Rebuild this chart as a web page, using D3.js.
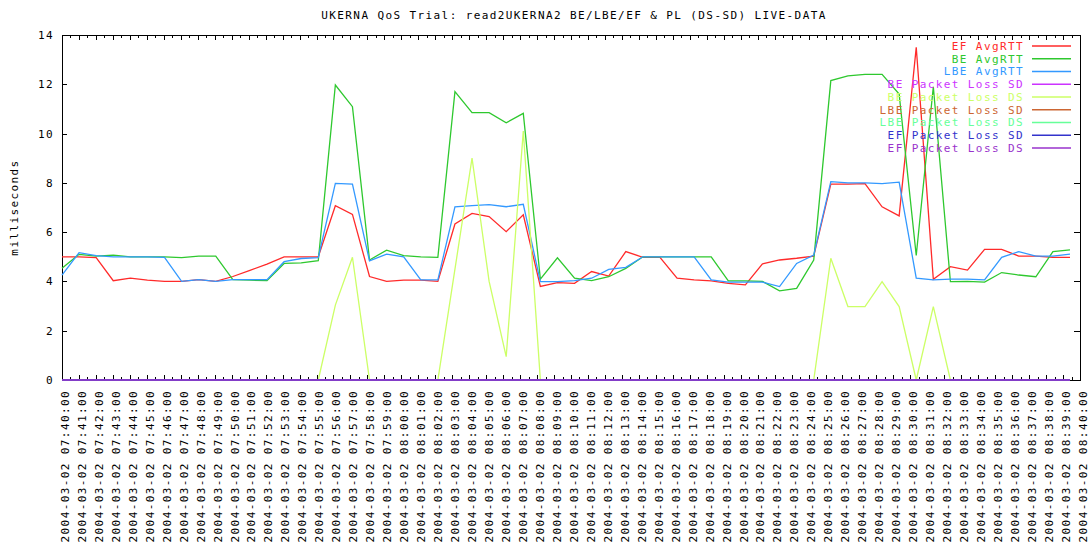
<!DOCTYPE html>
<html>
<head>
<meta charset="utf-8">
<script src="https://cdn.jsdelivr.net/npm/d3@7"></script>
<style>
  body { margin: 0; background: #fff; }
  svg { display: block; }
  text { font-family: "DejaVu Sans Mono", monospace; font-size: 11px; letter-spacing: 1.4px; }
</style>
</head>
<body>
<div id="chart"></div>
<script>
// Chart size and plot frame
const width = 1092;
const height = 545;
const frame = {left: 62, right: 1080, top: 35, bottom: 380};

const title = "UKERNA QoS Trial: read2UKERNA2 BE/LBE/EF & PL (DS-SD) LIVE-DATA";

// Axis runs 07:40 .. 08:40, one label per minute
const startTime = new Date(2004, 2, 2, 7, 40, 0);
const endTime = new Date(2004, 2, 2, 8, 40, 0);
const tickTimes = d3.timeMinute.range(startTime, d3.timeMinute.offset(endTime, 1));

const yTicks = [0, 2, 4, 6, 8, 10, 12, 14];

// 60 samples, roughly one a minute (samples drift a little past the minute marks)
const efAvgRTT = [5.0, 5.0, 4.97, 4.03, 4.13, 4.05, 4.0, 4.0, 4.07, 4.0,
  4.2, 4.45, 4.7, 5.0, 5.0, 5.0, 7.07, 6.72, 4.2, 4.0,
  4.05, 4.05, 4.0, 6.33, 6.76, 6.63, 6.02, 6.7, 3.8, 3.95,
  3.92, 4.4, 4.22, 5.21, 4.98, 4.98, 4.13, 4.06, 4.02, 3.92,
  3.86, 4.71, 4.87, 4.94, 5.03, 7.95, 7.95, 7.97, 7.03, 6.66,
  13.5, 4.09, 4.6, 4.46, 5.3, 5.3, 5.03, 5.03, 4.98, 4.98];

const beAvgRTT = [4.53, 5.1, 5.03, 5.07, 5.0, 5.0, 5.0, 4.97, 5.03, 5.03,
  4.07, 4.05, 4.03, 4.73, 4.75, 4.84, 11.97, 11.09, 4.87, 5.27,
  5.05, 5.0, 4.98, 11.7, 10.85, 10.85, 10.44, 10.82, 4.09, 4.96,
  4.13, 4.03, 4.19, 4.53, 5.0, 5.0, 5.0, 5.0, 5.0, 4.02,
  4.02, 4.0, 3.62, 3.72, 4.87, 12.15, 12.34, 12.4, 12.4, 11.6,
  5.05, 11.9, 3.99, 4.0, 3.97, 4.36, 4.26, 4.19, 5.21, 5.28];

const lbeAvgRTT = [4.26, 5.17, 5.05, 5.0, 5.0, 5.0, 4.98, 4.0, 4.07, 4.0,
  4.07, 4.07, 4.07, 4.8, 4.93, 4.97, 7.98, 7.95, 4.83, 5.11,
  5.0, 4.06, 4.06, 7.03, 7.08, 7.12, 7.03, 7.13, 3.99, 3.99,
  4.03, 4.13, 4.49, 4.57, 5.0, 5.0, 5.0, 5.0, 4.06, 3.97,
  3.97, 3.97, 3.79, 4.73, 5.07, 8.05, 8.0, 8.0, 7.97, 8.03,
  4.13, 4.06, 4.09, 4.09, 4.06, 4.98, 5.21, 5.03, 5.03, 5.11];

const beLossDS = [0, 0, 0, 0, 0, 0, 0, 0, 0, 0,
  0, 0, 0, 0, 0, 0, 3.04, 4.98, 0, 0,
  0, 0, 0, 4.5, 9.0, 4.0, 0.95, 10.1, 0, 0,
  0, 0, 0, 0, 0, 0, 0, 0, 0, 0,
  0, 0, 0, 0, 0, 4.94, 2.98, 2.98, 3.99, 2.98,
  0, 2.98, 0, 0, 0, 0, 0, 0, 0, 0];

// the other loss series stay at zero the whole hour
const noLoss = [0, 0, 0, 0, 0, 0, 0, 0, 0, 0,
  0, 0, 0, 0, 0, 0, 0, 0, 0, 0,
  0, 0, 0, 0, 0, 0, 0, 0, 0, 0,
  0, 0, 0, 0, 0, 0, 0, 0, 0, 0,
  0, 0, 0, 0, 0, 0, 0, 0, 0, 0,
  0, 0, 0, 0, 0, 0, 0, 0, 0, 0];

const seriesNames = ["EF AvgRTT", "BE AvgRTT", "LBE AvgRTT",
  "BE Packet Loss SD", "BE Packet Loss DS", "LBE Packet Loss SD",
  "LBE Packet Loss DS", "EF Packet Loss SD", "EF Packet Loss DS"];
const seriesColors = ["#ff2a2a", "#2ec82e", "#3399ff",
  "#cc33ff", "#ccff66", "#cc6633",
  "#66ff99", "#3333cc", "#9933cc"];
const seriesValues = [efAvgRTT, beAvgRTT, lbeAvgRTT,
  noLoss, beLossDS, noLoss, noLoss, noLoss, noLoss];

const series = seriesNames.map((name, k) => ({
  name: name,
  color: seriesColors[k],
  values: seriesValues[k].map((v, i) => ({i: i, v: v}))
}));

const svg = d3.select("#chart")
  .append("svg")
  .attr("width", width)
  .attr("height", height);

// Scales: time axis for ticks / labels, sample index for the lines
const x = d3.scaleTime()
  .domain([startTime, endTime])
  .range([frame.left, frame.right]);

const xSample = d3.scaleLinear()
  .domain([0, efAvgRTT.length - 1])
  .range([62, 1070]);

const y = d3.scaleLinear()
  .domain([0, 14])
  .range([frame.bottom, frame.top]);

// Title
svg.append("text")
  .attr("x", 574)
  .attr("y", 19)
  .attr("text-anchor", "middle")
  .text(title);

// Y axis title
svg.append("text")
  .attr("transform", `translate(18, ${(frame.top + frame.bottom) / 2}) rotate(-90)`)
  .attr("text-anchor", "middle")
  .text("milliseconds");

// Minute ticks and half minute ticks, top and bottom
const halfTicks = d3.timeSecond.every(30).range(startTime, endTime)
  .filter(d => d.getSeconds() === 30);

svg.append("g")
  .attr("transform", `translate(0, ${frame.bottom})`)
  .call(d3.axisBottom(x).tickValues(tickTimes).tickFormat("").tickSize(-5).tickSizeOuter(0))
  .call(g => g.select(".domain").remove());
svg.append("g")
  .attr("transform", `translate(0, ${frame.bottom})`)
  .call(d3.axisBottom(x).tickValues(halfTicks).tickFormat("").tickSize(-3).tickSizeOuter(0))
  .call(g => g.select(".domain").remove());
svg.append("g")
  .attr("transform", `translate(0, ${frame.top})`)
  .call(d3.axisTop(x).tickValues(tickTimes).tickFormat("").tickSize(-5).tickSizeOuter(0))
  .call(g => g.select(".domain").remove());
svg.append("g")
  .attr("transform", `translate(0, ${frame.top})`)
  .call(d3.axisTop(x).tickValues(halfTicks).tickFormat("").tickSize(-3).tickSizeOuter(0))
  .call(g => g.select(".domain").remove());

// X labels, rotated, reading upwards
const fmt = d3.timeFormat("%Y-%m-%d %H:%M:%S");
svg.append("g")
  .selectAll("text")
  .data(tickTimes)
  .enter()
  .append("text")
    .attr("transform", d => `translate(${x(d) + 3}, ${frame.bottom + 10}) rotate(-90)`)
    .attr("text-anchor", "end")
    .attr("dy", "0.35em")
    .text(d => fmt(d));

// Y axis left and right
svg.append("g")
  .attr("transform", `translate(${frame.left}, 0)`)
  .call(d3.axisLeft(y).tickValues(yTicks).tickSize(-5).tickSizeOuter(0).tickPadding(8))
  .call(g => g.select(".domain").remove())
  .call(g => g.selectAll("text").attr("font-family", null).attr("font-size", null));
svg.append("g")
  .attr("transform", `translate(${frame.right}, 0)`)
  .call(d3.axisRight(y).tickValues(yTicks).tickFormat("").tickSize(-6).tickSizeOuter(0))
  .call(g => g.select(".domain").remove());

// Frame
svg.append("rect")
  .attr("x", frame.left + 0.5)
  .attr("y", frame.top + 0.5)
  .attr("width", frame.right - frame.left)
  .attr("height", frame.bottom - frame.top)
  .attr("fill", "none")
  .attr("stroke", "#000")
  .attr("shape-rendering", "crispEdges");

svg.selectAll(".tick line")
  .attr("stroke", "#000")
  .attr("shape-rendering", "crispEdges");

// Lines
const line = d3.line()
  .x(d => xSample(d.i))
  .y(d => y(d.v));

svg.append("g")
  .selectAll("path")
  .data(series)
  .enter()
  .append("path")
    .attr("d", d => line(d.values))
    .attr("fill", "none")
    .attr("stroke", d => d.color)
    .attr("stroke-width", 1.3);

// Legend, no box, drawn over the plot
const legend = svg.append("g")
  .selectAll("g")
  .data(series)
  .enter()
  .append("g")
    .attr("transform", (d, i) => `translate(0, ${46 + i * 12.75})`);

legend.append("text")
  .attr("x", 1024)
  .attr("dy", "0.35em")
  .attr("text-anchor", "end")
  .attr("fill", d => d.color)
  .text(d => d.name);

legend.append("line")
  .attr("x1", 1032)
  .attr("x2", 1071)
  .attr("stroke", d => d.color)
  .attr("stroke-width", 1.3);
</script>
</body>
</html>
